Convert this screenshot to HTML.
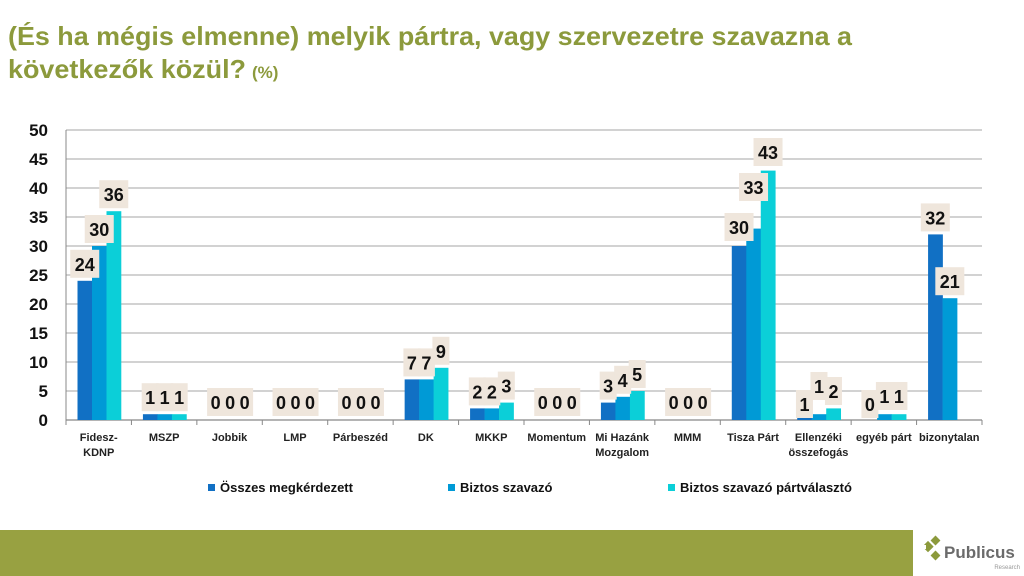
<!DOCTYPE html>
<html><head><meta charset="utf-8"><style>
html,body{margin:0;padding:0;background:#fff;}
svg{display:block;font-family:"Liberation Sans",sans-serif;}
</style></head><body>
<svg width="1024" height="576" viewBox="0 0 1024 576" xmlns="http://www.w3.org/2000/svg">
<text x="8" y="45" font-size="26" font-weight="bold" fill="#8c9a3c" textLength="844" lengthAdjust="spacingAndGlyphs">(És ha mégis elmenne) melyik pártra, vagy szervezetre szavazna a</text>
<text x="8" y="78" font-size="26" font-weight="bold" fill="#8c9a3c" textLength="238" lengthAdjust="spacingAndGlyphs">következők közül?</text>
<text x="252" y="78" font-size="17" font-weight="bold" fill="#8c9a3c">(%)</text>
<g id="chart"></g>
<rect x="0" y="530" width="913" height="46" fill="#98a141"/>
<g transform="translate(928,548)">
<rect x="-5" y="-5" width="8" height="8" fill="#8c9a3c" transform="rotate(45)"/>
<rect x="4" y="-11" width="7" height="7" fill="#8c9a3c" transform="rotate(45 7.5 -7.5)"/>
<rect x="4" y="4" width="7" height="7" fill="#8c9a3c" transform="rotate(45 7.5 7.5)"/>
<rect x="-6" y="-3" width="4" height="4" fill="#fff"/>
</g>
<text x="944" y="558" font-size="17" font-weight="bold" fill="#6b6b6b">Publicus</text>
<text x="1020" y="569" font-size="6" fill="#999" text-anchor="end">Research</text>
</svg>
<script>
const g=document.getElementById('chart');const NS='http://www.w3.org/2000/svg';
function el(t,a,txt){const e=document.createElementNS(NS,t);for(const k in a)e.setAttribute(k,a[k]);if(txt!==undefined)e.textContent=txt;g.appendChild(e);return e;}
const x0=66,x1=982,y0=420,sc=5.8,cw=(x1-x0)/14;
for(let v=0;v<=50;v+=5){const y=y0-v*sc;el('line',{x1:x0,x2:x1,y1:y,y2:y,stroke:v==0?'#888':'#b8b8b8','stroke-width':1.2});
el('text',{x:48,y:y+6,'font-size':17,'font-weight':'bold','text-anchor':'end',fill:'#111'},v);}
el('line',{x1:x0,x2:x0,y1:130,y2:y0,stroke:'#888'});
for(let i=0;i<=14;i++){const x=x0+i*cw;el('line',{x1:x,x2:x,y1:y0,y2:y0+5,stroke:'#888'});}
const cats=[["Fidesz-","KDNP"],["MSZP"],["Jobbik"],["LMP"],["Párbeszéd"],["DK"],["MKKP"],["Momentum"],["Mi Hazánk","Mozgalom"],["MMM"],["Tisza Párt"],["Ellenzéki","összefogás"],["egyéb párt"],["bizonytalan"]];
const data=[[24,30,36],[1,1,1],[0,0,0],[0,0,0],[0,0,0],[7,7,9],[2,2,3],[0,0,0],[3,4,5],[0,0,0],[30,33,43],[1,1,2],[0,1,1],[32,21,null]];
const lab=data;
const ov={"10,1":201,"10,2":166,"10,0":241,"11,0":418,"11,1":400,"11,2":405,"12,0":418,"12,1":410,"12,2":410};
const cols=['#1170c4','#009ad6','#0bcfd8'];const bw=14.5;
const boxes=[],texts=[];
data.forEach((d,i)=>{const gx=x0+i*cw+11.5;
 d.forEach((v,j)=>{if(v===null)return;const bx=gx+j*bw;const top=y0-v*sc;
  if(v>0)el('rect',{x:bx,y:top,width:bw+0.3,height:v*sc,fill:cols[j]});
  let bot=ov[i+','+j];if(bot===undefined){bot=Math.min(top-3, v==0?416:412);}
  const s=String(lab[i][j]);const w=s.length==1?17:29;const cx=bx+bw/2;
  boxes.push([cx-w/2,bot-28,w,28]);texts.push([cx,bot-7,s]);});
 const c=cats[i];const cx=x0+i*cw+cw/2;
 c.forEach((t,k)=>el('text',{x:cx,y:441+k*15,'font-size':11,'font-weight':'bold','text-anchor':'middle',fill:'#222'},t));
});
boxes.forEach(b=>el('rect',{x:b[0],y:b[1],width:b[2],height:b[3],fill:'#efe6dc'}));
texts.forEach(t=>el('text',{x:t[0],y:t[1],'font-size':18,'font-weight':'bold','text-anchor':'middle',fill:'#111'},t[2]));
const leg=[[208,'Összes megkérdezett'],[448,'Biztos szavazó'],[668,'Biztos szavazó pártválasztó']];
leg.forEach((l,j)=>{el('rect',{x:l[0],y:484,width:7,height:7,fill:cols[j]});el('text',{x:l[0]+12,y:492,'font-size':13,'font-weight':'bold',fill:'#111'},l[1]);});
</script>
</body></html>
